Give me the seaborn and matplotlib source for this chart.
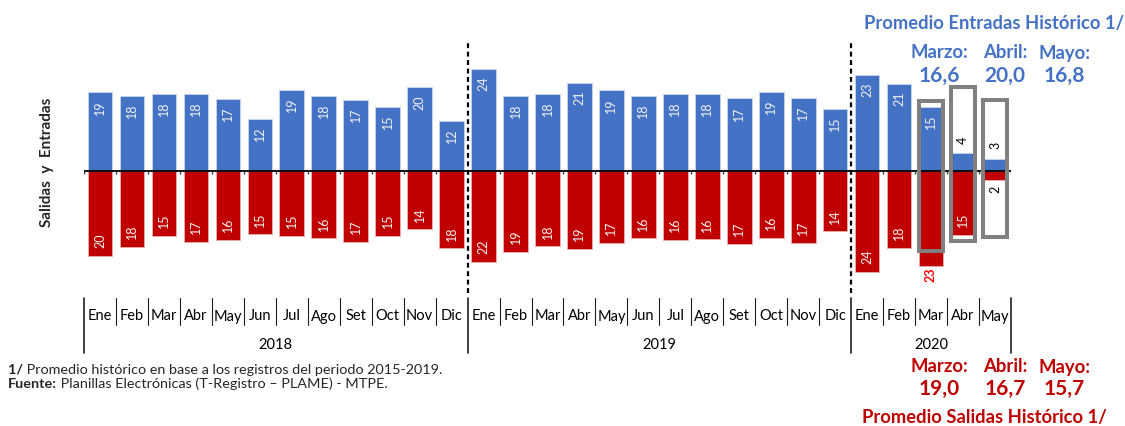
import matplotlib

matplotlib.use("Agg")
import matplotlib.pyplot as plt
import pandas as pd
import seaborn as sns
from matplotlib.patches import Rectangle

MESES = ["Ene", "Feb", "Mar", "Abr", "May", "Jun", "Jul", "Ago", "Set", "Oct", "Nov", "Dic"]
anios = ["2018", "2019", "2020"]
meses_por_anio = [12, 12, 5]

# miles de trabajadores
entradas = [18.7, 17.9, 18.4, 18.3, 17.1, 12.4, 19.4, 17.9, 16.9, 15.3, 19.9, 12.0,
            24.4, 17.9, 18.3, 21.0, 19.2, 17.8, 18.3, 18.4, 17.3, 18.9, 17.4, 14.8,
            22.9, 20.8, 15.2, 4.2, 2.9]
salidas = [20.2, 18.1, 15.4, 16.8, 16.4, 15.1, 15.4, 16.0, 16.9, 15.4, 13.9, 18.4,
           21.7, 19.3, 17.9, 18.6, 17.1, 16.0, 16.4, 16.3, 17.4, 15.9, 17.1, 14.4,
           24.0, 18.3, 22.6, 15.2, 2.1]

# promedio historico 2015-2019 para marzo, abril y mayo
hist_meses = ["Marzo:", "Abril:", "Mayo:"]
hist_idx = [26, 27, 28]
hist_entradas = [16.6, 20.0, 16.8]
hist_salidas = [19.0, 16.7, 15.7]

AZUL = "#4472C4"
ROJO = "#C00000"
W, H = 1125, 426
BAR_W = 0.77
FS_BAR = 9

sns.set_style("white")
plt.rcParams["font.family"] = ["Lato", "DejaVu Sans"]

meses = [m for n in meses_por_anio for m in MESES[:n]]
df = pd.DataFrame({
    "pos": range(len(meses)),
    "mes": meses,
    "entradas": entradas,
    "salidas_neg": [-v for v in salidas],
})

fig = plt.figure(figsize=(W / 100, H / 100), dpi=100)
ax_top, ax_bot = 40, 293
ax = fig.add_axes([84 / W, 1 - ax_bot / H, (1011 - 84) / W, (ax_bot - ax_top) / H])


def ay(px):
    # pixel row -> axes fraction
    return (ax_bot - px) / (ax_bot - ax_top)


sns.barplot(data=df, x="pos", y="entradas", color=AZUL, saturation=1, width=BAR_W,
            edgecolor="#C9D6EE", linewidth=0.6, ax=ax)
sns.barplot(data=df, x="pos", y="salidas_neg", color=ROJO, saturation=1, width=BAR_W,
            edgecolor="#EBB0B0", linewidth=0.6, ax=ax)

n = len(meses)
ax.set_xlim(-0.5, n - 0.5)
ax.set_ylim(-29.05, 31.2)
ax.set(xlabel="", ylabel="", xticks=[], yticks=[])
sns.despine(ax=ax, left=True, bottom=True)

ax.axhline(0, color="black", lw=1.3, zorder=3)
ax.vlines([k - 0.5 for k in range(n + 1)], -0.8, 0, color="#404040", lw=1, zorder=3)

# separadores de anio
cortes = [sum(meses_por_anio[:k]) - 0.5 for k in range(1, len(meses_por_anio))]
for c in cortes:
    ax.axvline(c, color="black", lw=1.6, ls=(0, (2.2, 1.6)), zorder=3)

hist_map = {i: (e, s) for i, e, s in zip(hist_idx, hist_entradas, hist_salidas)}

# etiquetas de barras
for i, (e, s) in enumerate(zip(entradas, salidas)):
    he, hs = hist_map.get(i, (None, None))
    if e < 6:
        ax.annotate(f"{round(e)}", (i, e), xytext=(0, 7), textcoords="offset points",
                    ha="center", va="bottom", rotation=90, fontsize=FS_BAR, color="black", zorder=6)
    else:
        ax.annotate(f"{round(e)}", (i, e), xytext=(0, -5.5), textcoords="offset points",
                    ha="center", va="top", rotation=90, fontsize=FS_BAR, color="#F2F2F2", zorder=6)
    if hs is not None and s > hs:
        ax.annotate(f"{round(s)}", (i, -s), xytext=(0, -1), textcoords="offset points",
                    ha="center", va="top", rotation=90, fontsize=FS_BAR, color="#FF0000",
                    fontweight="bold", zorder=6)
    elif s < 6:
        ax.annotate(f"{round(s)}", (i, -s), xytext=(0, -4), textcoords="offset points",
                    ha="center", va="top", rotation=90, fontsize=FS_BAR, color="black", zorder=6)
    else:
        ax.annotate(f"{round(s)}", (i, -s), xytext=(0, 5.5), textcoords="offset points",
                    ha="center", va="bottom", rotation=90, fontsize=FS_BAR, color="#F2F2F2", zorder=6)

# recuadros con el promedio historico
for i, e, s in zip(hist_idx, hist_entradas, hist_salidas):
    ax.add_patch(Rectangle((i - BAR_W / 2, -s), BAR_W, e + s, fill=False,
                           ec="#808080", lw=2.9, zorder=5))

# eje de categorias tipo tabla
tr = ax.get_xaxis_transform()
largos = [-0.5] + cortes + [n - 0.5]
for k in range(n + 1):
    xb = k - 0.5
    bajo = ay(353) if xb in largos else ay(325)
    ax.plot([xb, xb], [ay(298), bajo], transform=tr, color="#202020",
            lw=1.2 if xb in largos else 0.8, clip_on=False)
for i, m in enumerate(meses):
    ax.text(i, ay(316.5), m, transform=tr, ha="center", va="center", fontsize=10.5, color="black")
ini = 0
for a, cnt in zip(anios, meses_por_anio):
    ax.text(ini + (cnt - 1) / 2, ay(345), a, transform=tr, ha="center", va="center",
            fontsize=10.5, color="black")
    ini += cnt

fig.text(47.5 / W, 1 - 162 / H, "Salidas  y  Entradas", rotation=90, ha="center", va="center",
         fontsize=11, fontweight="bold")

# textos del promedio historico
fig.text(994 / W, 1 - 23 / H, "Promedio Entradas Histórico 1/", color=AZUL, fontsize=13.2,
         fontweight="bold", ha="center", va="center")
fig.text(984 / W, 1 - 418 / H, "Promedio Salidas Histórico 1/", color=ROJO, fontsize=13.2,
         fontweight="bold", ha="center", va="center")
for xc, m, e, s in zip([939, 1005, 1064], hist_meses, hist_entradas, hist_salidas):
    fig.text(xc / W, 1 - 53 / H, m, color=AZUL, fontsize=13.3, fontweight="bold",
             ha="center", va="center")
    fig.text(xc / W, 1 - 76 / H, f"{e:.1f}".replace(".", ","), color=AZUL, fontsize=15,
             fontweight="bold", ha="center", va="center")
    fig.text(xc / W, 1 - 367 / H, m, color=ROJO, fontsize=13.3, fontweight="bold",
             ha="center", va="center")
    fig.text(xc / W, 1 - 389 / H, f"{s:.1f}".replace(".", ","), color=ROJO, fontsize=15,
             fontweight="bold", ha="center", va="center")

# notas
t1 = fig.text(8 / W, 1 - 370 / H, "1/", fontsize=10.4, fontweight="bold", va="center")
ax.annotate(" Promedio histórico en base a los registros del periodo 2015-2019.", xy=(1, 0),
            xycoords=t1, va="bottom", ha="left", fontsize=10.4, annotation_clip=False)
t2 = fig.text(8 / W, 1 - 384 / H, "Fuente:", fontsize=10.4, fontweight="bold", va="center")
ax.annotate(" Planillas Electrónicas (T-Registro – PLAME) - MTPE.", xy=(1, 0),
            xycoords=t2, va="bottom", ha="left", fontsize=10.4, annotation_clip=False)

fig.savefig("out.png", dpi=100, facecolor="white")
